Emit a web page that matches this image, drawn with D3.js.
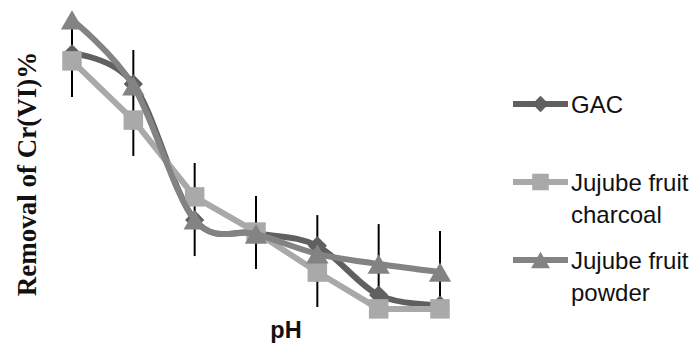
<!DOCTYPE html>
<html>
<head>
<meta charset="utf-8">
<script src="https://cdn.jsdelivr.net/npm/d3@7.9.0/dist/d3.min.js"></script>
<style>
  body { margin: 0; background: #fff; }
  svg { display: block; }
</style>
</head>
<body>
<svg id="chart" width="694" height="347"></svg>
<script>
// pH steps (no tick labels shown on the original)
const pH = [2, 3, 4, 5, 6, 7, 8];

// removal of Cr(VI) in %
const gac = [86.3, 76.9, 34.4, 30.3, 26.3, 10.9, 7.8];
const charcoal = [84.1, 65.6, 41.6, 30.6, 18.1, 6.6, 6.6];
const powder = [96.9, 76.3, 34.4, 30.0, 23.8, 20.6, 18.1];

// error bar ends
const errHigh = [99.4, 87.5, 52.2, 41.9, 35.9, 33.1, 30.9];
const errLow = [72.8, 54.4, 23.1, 19.1, 7.2, 7.8, 7.8];

const seriesNames = ['GAC', 'Jujube fruit charcoal', 'Jujube fruit powder'];

const svg = d3.select('#chart');

const x = d3.scalePoint().domain(pH).range([72, 440]);
const y = d3.scaleLinear().domain([0, 100]).range([330, 10]);

// symbol shapes like the excel markers
const squareSym = d3.symbol().type(d3.symbolSquare);
const triSym = d3.symbol().type(d3.symbolTriangle);

let series = [
  { name: seriesNames[0], values: gac, color: '#606060', marker: 'diamond', curve: d3.curveCardinal.tension(0) },
  { name: seriesNames[1], values: charcoal, color: '#a9a9a9', marker: 'square', curve: d3.curveLinear },
  { name: seriesNames[2], values: powder, color: '#838383', marker: 'triangle', curve: d3.curveCardinal.tension(0) },
];

function drawMarker(g, type, cx, cy, color, scale) {
  if (type === 'diamond') {
    g.append('path')
      .attr('d', squareSym.size(185 * scale * scale)())
      .attr('transform', `translate(${cx},${cy}) rotate(45)`)
      .attr('fill', color);
  } else if (type === 'square') {
    g.append('path')
      .attr('d', squareSym.size(380 * scale * scale)())
      .attr('transform', `translate(${cx},${cy})`)
      .attr('fill', color);
  } else {
    // d3 triangle sits on its centroid, nudge so the box is centred
    let s = 215 * scale * scale;
    let h = Math.sqrt(s * 4 / Math.sqrt(3)) * Math.sqrt(3) / 2;
    g.append('path')
      .attr('d', triSym.size(s)())
      .attr('transform', `translate(${cx},${cy + h / 6})`)
      .attr('fill', color);
  }
}

// error bars go underneath
svg.append('g')
  .selectAll('line')
  .data(pH)
  .join('line')
  .attr('x1', (d) => x(d))
  .attr('x2', (d) => x(d))
  .attr('y1', (d, i) => y(errHigh[i]))
  .attr('y2', (d, i) => y(errLow[i]))
  .attr('stroke', '#000')
  .attr('stroke-width', 2);

series.forEach((s) => {
  let g = svg.append('g');
  let line = d3.line()
    .x((d, i) => x(pH[i]))
    .y((d) => y(d))
    .curve(s.curve);
  g.append('path')
    .attr('d', line(s.values))
    .attr('fill', 'none')
    .attr('stroke', s.color)
    .attr('stroke-width', 6);
  s.values.forEach((v, i) => drawMarker(g, s.marker, x(pH[i]), y(v), s.color, 1));
});

// legend
const legendRows = [
  { y: 104, lines: ['GAC'] },
  { y: 182, lines: ['Jujube fruit', 'charcoal'] },
  { y: 260, lines: ['Jujube fruit', 'powder'] },
];

series.forEach((s, idx) => {
  let row = legendRows[idx];
  let g = svg.append('g');
  g.append('line')
    .attr('x1', 513).attr('x2', 568)
    .attr('y1', row.y).attr('y2', row.y)
    .attr('stroke', s.color)
    .attr('stroke-width', 6);
  drawMarker(g, s.marker, 540.5, row.y, s.color, 0.85);
  let t = g.append('text')
    .attr('x', 571)
    .attr('y', row.y + 9)
    .attr('font-family', 'Liberation Sans, Arial, sans-serif')
    .attr('font-size', 24)
    .attr('fill', '#111');
  row.lines.forEach((ln, k) => {
    t.append('tspan').attr('x', 571).attr('dy', k === 0 ? 0 : 32).text(ln);
  });
});

// axis titles
svg.append('text')
  .attr('transform', 'translate(36,174) rotate(-90)')
  .attr('text-anchor', 'middle')
  .attr('font-family', 'Liberation Serif, Times New Roman, serif')
  .attr('font-weight', 'bold')
  .attr('font-size', 27)
  .attr('fill', '#111')
  .text('Removal of Cr(VI)%');

svg.append('text')
  .attr('x', 286)
  .attr('y', 338)
  .attr('text-anchor', 'middle')
  .attr('font-family', 'Liberation Sans, Arial, sans-serif')
  .attr('font-weight', 'bold')
  .attr('font-size', 23.5)
  .attr('fill', '#111')
  .text('pH');
</script>
</body>
</html>
